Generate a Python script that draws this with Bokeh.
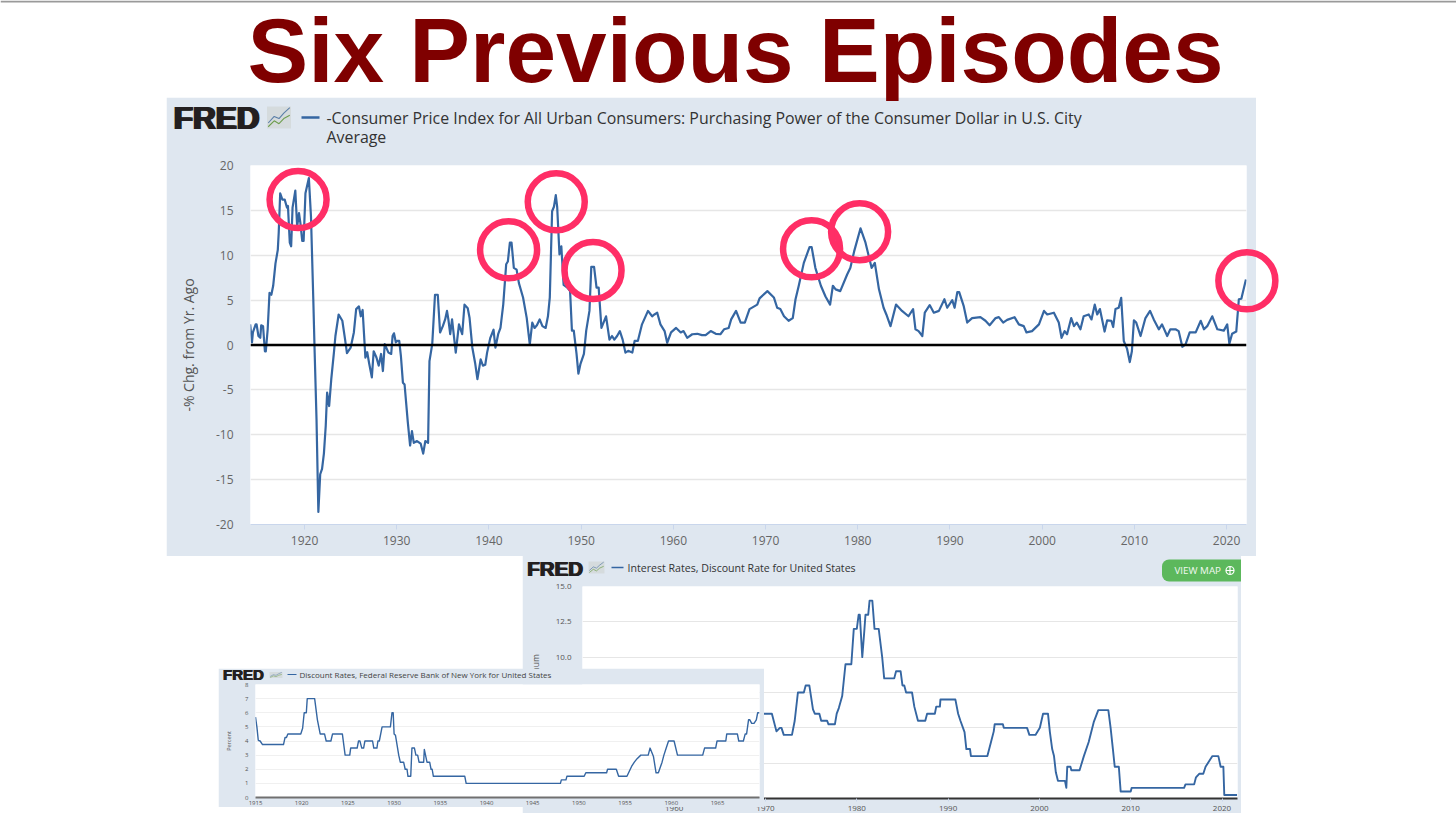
from bokeh.embed import file_html
from bokeh.resources import INLINE
from bokeh.plotting import figure
from bokeh.models import Range1d, FixedTicker, Span, BoxAnnotation
from bokeh.core.properties import value

# ---------- chart data ----------
title_text = "Six Previous Episodes"
cpi_legend = ["-Consumer Price Index for All Urban Consumers: Purchasing Power of the Consumer Dollar in U.S. City", "Average"]
ny_legend = "Discount Rates, Federal Reserve Bank of New York for United States"
us_legend = "Interest Rates, Discount Rate for United States"

cpi_years = [1914.1,1914.3,1914.4,1914.7,1914.8,1915.0,1915.2,1915.3,1915.5,1915.7,1915.8,1916.0,1916.2,1916.4,1916.6,1916.85,1917.1,1917.2,1917.36,1917.6,1917.85,1918.1,1918.2,1918.4,1918.55,1918.7,1919.0,1919.2,1919.4,1919.55,1919.75,1919.9,1920.1,1920.47,1920.7,1920.95,1921.1,1921.3,1921.5,1921.7,1921.9,1922.1,1922.3,1922.45,1922.67,1922.9,1923.2,1923.35,1923.7,1924.1,1924.4,1924.6,1925.0,1925.35,1925.6,1925.9,1926.1,1926.3,1926.6,1926.8,1927.0,1927.3,1927.5,1927.8,1928.05,1928.3,1928.5,1928.7,1929.1,1929.4,1929.55,1929.7,1929.9,1930.05,1930.27,1930.45,1930.67,1930.85,1931.2,1931.45,1931.65,1931.85,1932.2,1932.6,1932.87,1933.1,1933.4,1933.55,1933.85,1934.15,1934.45,1934.7,1935.0,1935.25,1935.45,1935.6,1935.8,1936.0,1936.4,1936.75,1937.1,1937.35,1937.7,1937.9,1938.2,1938.5,1938.75,1939.1,1939.35,1939.6,1939.8,1940.15,
1940.5,1940.7,1941.0,1941.25,1941.55,1941.87,1942.05,1942.27,1942.45,1942.7,1943.0,1943.25,1943.7,1944.1,1944.43,1944.7,1944.95,1945.2,1945.5,1945.8,1946.15,1946.4,1946.6,1946.85,1947.05,1947.25,1947.4,1947.65,1947.85,1948.1,1948.5,1948.8,1949.0,1949.2,1949.5,1949.7,1949.93,1950.3,1950.55,1950.9,1951.1,1951.4,1951.67,1951.9,1952.2,1952.7,1953.07,1953.35,1953.6,1953.9,1954.2,1954.5,1954.8,1955.1,1955.35,1955.55,1955.8,1956.15,1956.6,1957.25,1957.7,1957.95,1958.25,1958.6,1959.05,1959.33,1959.75,1960.3,1960.8,1961.1,1961.5,1962.05,1962.6,1963.1,1963.5,1964.05,1964.6,1965.1,1965.5,1966.0,1966.27,1966.8,
1967.3,1967.75,1968.26,1969.1,1969.35,1970.2,1970.9,1971.26,1971.6,1972.0,1972.5,1972.95,1973.25,1973.6,1974.15,1974.77,1975.0,1975.4,1976.0,1976.5,1977.0,1977.3,1977.6,1978.1,1978.85,1979.2,1979.6,1980.3,1980.84,1981.5,1981.85,1982.3,1982.8,1983.1,1983.55,1984.15,1984.8,1985.5,1986.0,1986.26,1986.6,1987.0,1987.27,1987.8,1988.25,1988.8,1989.4,1989.7,1990.25,1990.5,1990.8,1991.0,1991.5,1991.87,1992.4,1993.3,1993.85,1994.3,
1994.95,1995.3,1995.77,1996.2,1997.0,1997.47,1998.0,1998.3,1998.9,1999.65,2000.2,2000.55,2001.27,2001.8,2002.1,2002.43,2002.7,2003.15,2003.45,2003.75,2004.15,2004.5,2005.05,2005.35,2005.7,2005.97,2006.26,2006.77,2007.05,2007.5,2007.7,2007.95,2008.3,2008.57,2008.85,2009.2,2009.5,2009.73,2009.95,2010.2,2010.67,2011.2,2011.7,2012.1,2012.65,2013.0,2013.56,2013.9,2014.46,2014.8,2015.2,2015.55,2016.0,2016.65,2017.2,2017.55,2017.9,2018.45,2019.0,2019.7,2020.07,2020.3,2020.6,2021.05,2021.33,2021.6,2022.1]
cpi_values = [2.3,0.3,1.4,2.3,2.3,1.0,0.8,2.2,2.1,-0.7,-0.7,1.7,5.8,5.6,6.6,9.1,10.6,12.5,16.9,16.2,16.2,15.3,15.5,11.4,11.0,15.3,17.2,13.2,14.7,13.6,11.6,11.6,16.9,18.6,14.3,5.1,-0.9,-8.3,-18.6,-14.4,-13.8,-12.1,-9.0,-5.3,-6.8,-3.8,-0.7,1.0,3.4,2.7,0.6,-0.9,-0.3,1.4,4.0,4.3,3.2,3.9,-1.4,-0.8,-2.0,-3.6,-0.7,-1.4,-2.3,-1.0,-2.9,0.1,-0.85,-1.0,1.0,1.3,0.3,0.45,0.45,-1.2,-4.2,-4.4,-8.6,-11.2,-9.6,-10.9,-10.7,-11.0,-12.1,-10.7,-10.9,-1.8,0.1,5.6,5.6,1.4,2.1,2.85,3.8,2.85,1.2,2.85,-0.85,2.3,1.2,4.5,4.1,3.0,-0.3,-2.0,-3.8,-1.6,-2.3,-2.2,-0.85,0.8,
1.7,-0.3,1.2,1.9,4.5,9.0,9.3,11.4,11.4,8.6,8.4,6.9,5.3,3.0,0.07,2.5,1.9,2.2,2.85,2.1,1.9,3.2,5.3,14.9,15.4,16.7,15.4,10.1,11.0,6.7,6.4,6.0,1.6,1.6,-1.0,-3.2,-2.1,-1.0,1.6,3.8,8.7,8.7,6.4,6.4,1.9,3.2,0.6,1.0,0.6,1.0,1.55,0.6,-0.85,-0.65,-0.75,-0.85,0.45,0.45,2.3,3.8,3.2,3.4,3.6,2.3,1.55,0.25,1.4,1.9,1.4,1.55,0.8,1.2,1.25,1.1,1.1,1.55,1.25,1.2,1.75,1.9,2.85,3.8,
2.5,2.5,4.0,4.5,5.2,6.0,5.3,4.15,4.0,3.2,2.7,3.0,5.1,6.6,9.15,10.9,10.9,8.6,6.6,5.4,4.5,6.6,6.2,6.0,7.85,8.6,10.4,13.0,11.4,8.6,9.15,6.2,4.15,3.4,2.1,4.5,3.8,3.2,4.0,1.75,1.55,1.0,3.6,4.45,3.6,3.8,5.1,4.15,5.0,4.15,5.9,5.9,4.3,2.5,3.0,3.1,2.7,2.2,
3.0,3.1,2.5,2.8,3.1,2.3,2.1,1.4,1.55,2.3,3.8,3.4,3.6,2.5,0.8,1.55,1.2,3.0,2.1,2.5,1.75,3.2,3.4,2.85,4.5,3.4,4.0,1.5,2.75,2.7,2.0,4.0,4.15,5.25,0.45,-0.4,-1.9,-0.7,2.75,2.5,1.0,3.0,3.8,2.85,1.75,2.3,1.0,1.75,1.75,1.55,-0.2,0.07,1.4,1.4,2.7,1.75,2.1,3.2,1.75,1.6,2.3,0.15,1.25,1.5,5.1,5.15,7.3]

ny_years = [1915.0,1915.15,1915.3,1915.5,1915.76,1918.03,1918.2,1918.35,1918.5,1919.9,1920.1,1920.27,1920.5,1920.6,1921.4,1921.7,1922.0,1922.47,1922.65,1923.16,1923.34,1924.4,1924.7,1925.2,1925.3,1926.0,1926.15,1926.3,1926.5,1926.7,1926.84,1927.67,1927.8,1928.14,1928.25,1928.4,1928.7,1929.6,1929.77,1929.9,1930.0,1930.15,1930.5,1930.67,1931.03,1931.2,1931.4,1931.5,1931.8,1931.93,1932.2,1932.36,1932.55,1932.7,1933.2,1933.27,1933.56,1933.85,1934.0,1934.12,1934.25,1937.65,1937.8,1948.0,1948.1,1948.6,1948.7,1950.57,1950.75,1953.0,1953.1,1954.05,1954.3,1955.2,1955.7,1956.0,1956.3,1956.7,1957.5,1957.7,1958.07,1958.35,1958.6,1959.0,1959.2,1959.45,1959.7,1960.3,1960.67,1963.4,1963.6,1964.8,1964.95,1965.9,1966.0,1967.15,1967.3,1967.8,1968.0,1968.15,1968.36,1968.5,1968.7,1968.95,1969.2,1969.35,1969.55]
ny_values = [5.7,5.0,4.05,4.0,3.75,3.75,4.25,4.25,4.5,4.5,4.9,6.0,6.0,7.0,7.0,5.5,4.5,4.5,4.0,4.0,4.5,4.5,3.0,3.0,3.5,3.5,4.0,4.0,3.5,3.5,4.0,4.0,3.5,3.5,4.0,4.0,5.0,5.0,6.0,6.0,4.5,4.4,3.0,2.5,2.5,2.0,2.0,1.5,1.5,3.5,3.5,3.0,3.0,2.5,2.5,3.4,2.5,2.5,2.0,2.0,1.5,1.5,1.0,1.0,1.25,1.25,1.5,1.5,1.75,1.75,2.0,2.0,1.5,1.5,2.2,2.5,2.75,3.0,3.0,3.5,2.9,1.75,1.75,2.5,3.0,3.5,4.0,4.0,3.0,3.0,3.5,3.5,4.0,4.0,4.5,4.5,4.0,4.0,4.5,4.5,5.5,5.5,5.25,5.25,5.5,6.0,6.0]

us_years = [1969.5,1970.7,1971.2,1971.57,1971.75,1972.0,1972.9,1973.2,1973.55,1974.2,1974.4,1974.8,1975.2,1975.4,1975.9,1976.1,1976.75,1976.9,1977.6,1977.8,1978.03,1978.4,1978.76,1979.4,1979.67,1980.0,1980.2,1980.33,1980.6,1980.84,1980.95,1981.25,1981.4,1981.7,1981.94,1982.4,1982.78,1983.0,1984.1,1984.3,1984.8,1985.0,1985.2,1985.4,1986.05,1986.3,1986.7,1987.5,1987.7,1988.55,1988.7,1989.1,1989.16,1990.8,1991.1,1991.35,1991.8,1992.0,1992.4,1992.5,1994.3,1994.7,1995.0,1995.1,1996.0,1996.1,1998.65,1998.9,1999.57,2000.05,2000.4,2000.94,2001.15,2001.4,2001.6,2001.8,2002.03,2002.8,2002.95,2003.05,2003.4,2003.5,2004.4,2004.87,2005.4,2005.95,2006.45,2007.55,2007.8,2008.05,2008.25,2008.7,2008.9,2010.0,2010.1,2015.85,2016.0,2016.95,2017.15,2017.5,2017.95,2018.2,2018.95,2019.6,2019.85,2020.15,2020.25,2021.65]
us_values = [6.0,6.0,4.75,5.0,5.0,4.5,4.5,5.5,7.5,7.5,8.0,8.0,6.3,6.0,6.0,5.5,5.5,5.25,5.25,6.0,6.4,7.25,9.5,9.5,12.0,12.0,13.0,13.0,10.0,12.0,13.0,13.0,14.0,14.0,12.0,12.0,10.0,8.5,8.5,9.0,9.0,8.0,8.0,7.5,7.5,6.5,5.5,5.5,6.0,6.0,6.5,6.5,7.0,7.0,6.0,5.5,4.7,3.5,3.5,3.0,3.0,4.0,4.75,5.25,5.25,5.0,5.0,4.5,4.5,5.0,6.0,6.0,4.7,3.5,3.0,1.85,1.25,1.25,0.75,2.25,2.25,2.0,2.0,3.0,4.0,5.4,6.25,6.25,5.0,3.5,2.25,2.25,0.5,0.5,0.75,0.75,1.0,1.0,1.5,1.75,1.75,2.25,3.0,3.0,2.25,2.25,0.25,0.25]

ring_years = [1919.3,1942.13,1947.3,1951.29,1974.99,1980.2,2022.2]
ring_values = [16.2,10.6,15.95,8.3,10.72,12.61,7.15]

cpi_xticks = list(range(1920, 2021, 10))
cpi_yticks = list(range(-20, 21, 5))
us_xticks = list(range(1960, 2021, 10))
us_yticks = [0, 2.5, 5, 7.5, 10, 12.5, 15]
ny_xticks = list(range(1915, 1966, 5))
ny_yticks = list(range(0, 9))

# ---------- styling ----------
PANEL = "#DFE7F0"
LINE = "#3566A2"
FONT = "Open Sans"
roots = []


def place(x, y):
    return {"position": "absolute", "left": f"{x}px", "top": f"{y}px"}


def panel(box, frame, xr, yr, xticks, yticks, tick_font, tick_color="#666666"):
    x0, y0, x1, y1 = box
    fx0, fy0, fx1, fy1 = frame
    p = figure(width=x1 - x0, height=y1 - y0, output_backend="svg", toolbar_location=None,
               x_range=Range1d(*xr), y_range=Range1d(*yr),
               min_border_left=fx0 - x0, min_border_right=x1 - fx1,
               min_border_top=fy0 - y0, min_border_bottom=y1 - fy1,
               border_fill_color=PANEL, background_fill_color="white",
               outline_line_color=None, styles=place(x0, y0))
    p.xgrid.visible = False
    p.xaxis.ticker = FixedTicker(ticks=xticks)
    p.yaxis.ticker = FixedTicker(ticks=yticks)
    for ax in (p.xaxis[0], p.yaxis[0]):
        ax.major_label_text_font = FONT
        ax.major_label_text_font_size = tick_font
        ax.major_label_text_color = tick_color
        ax.minor_tick_line_color = None
    p.yaxis[0].axis_line_color = None
    p.yaxis[0].major_tick_line_color = None
    roots.append(p)
    return p


def overlay(box):
    x0, y0, x1, y1 = box
    p = figure(width=x1 - x0, height=y1 - y0, output_backend="svg", toolbar_location=None,
               x_range=Range1d(x0, x1), y_range=Range1d(y1, y0),
               x_axis_location=None, y_axis_location=None,
               min_border=0, border_fill_color=None, background_fill_color=None,
               outline_line_color=None, styles=place(x0, y0))
    p.grid.visible = False
    roots.append(p)
    return p


def label(p, x, y, s, size, color="#333333", font=FONT, style="normal", align="left", baseline="middle"):
    p.text(x=[x], y=[y], text=[s], text_font=value(font), text_font_size=f"{size}px",
           text_font_style=style, text_color=color, text_align=align, text_baseline=baseline)


def fred_logo(p, x0, yc, size, smear):
    # heavy, tight FRED wordmark: overprinted text keeps it real text but thickens the strokes
    for i in range(3):
        label(p, x0 + i * smear / 2, yc, "FRED", size, color="#231F20", font="Liberation Sans", style="bold")


def fred_icon(p, x0, y0, x1, y1, lw):
    w, h = x1 - x0, y1 - y0
    p.quad(left=[x0], right=[x1], top=[y0], bottom=[y1], fill_color="#D5DBDD", line_color=None)
    p.line([x0 + w * f for f in (0.05, 0.3, 0.5, 0.7, 0.95)], [y0 + h * f for f in (0.75, 0.45, 0.55, 0.3, 0.05)],
           line_color="#5B7FA8", line_width=lw)
    p.line([x0 + w * f for f in (0.05, 0.3, 0.5, 0.7, 0.95)], [y0 + h * f for f in (0.92, 0.65, 0.78, 0.55, 0.4)],
           line_color="#6F9E4F", line_width=lw)


# ---------- main panel ----------
m_box = (166, 97, 1256, 556)
m_frame = (250, 165, 1246, 524)
m_xr = (1914.14, 2022.16)
m_yr = (-20, 20)
m = panel(m_box, m_frame, m_xr, m_yr, cpi_xticks, cpi_yticks, "12px")
m.ygrid.grid_line_color = "#E6E6E6"
m.ygrid.grid_line_width = 1.5
m.yaxis[0].major_label_overrides = {v: str(v) for v in cpi_yticks}
m.yaxis[0].major_label_standoff = 17
m.yaxis[0].major_tick_out = 0
m.yaxis[0].major_tick_in = 0
m.yaxis[0].axis_label = "-% Chg. from Yr. Ago"
m.yaxis[0].axis_label_text_font = FONT
m.yaxis[0].axis_label_text_font_style = "normal"
m.yaxis[0].axis_label_text_font_size = "14px"
m.yaxis[0].axis_label_text_color = "#555555"
m.yaxis[0].axis_label_standoff = 15
m.xaxis[0].axis_line_color = "#C9D6EC"
m.xaxis[0].major_tick_line_color = "#C9D6EC"
m.xaxis[0].major_tick_out = 5
m.xaxis[0].major_tick_in = 0
m.xaxis[0].major_label_standoff = 6
m.line(cpi_years, cpi_values, line_color=LINE, line_width=2.2, line_join="round")
m.add_layout(Span(location=0, dimension="width", line_color="black", line_width=2.5))

# ---------- page overlay: rule, title, main header, rings ----------
page = overlay((0, 0, 1456, 827))
page.quad(left=[0], right=[1456], top=[0], bottom=[2], fill_color="#9A9A9A", line_color=None)
label(page, 735, 50, title_text, 91, color="#7F0000", font="Liberation Sans", style="bold", align="center")
fred_logo(page, 172, 117.5, 31.5, 2.5)
fred_icon(page, 266.5, 106, 290.5, 128, 1.1)
page.line([301, 319], [117, 117], line_color=LINE, line_width=2.5)
label(page, 326, 117.5, cpi_legend[0], 15.9)
label(page, 326, 136.5, cpi_legend[1], 15.9)
sx = (m_frame[2] - m_frame[0]) / (m_xr[1] - m_xr[0])
sy = (m_frame[3] - m_frame[1]) / (m_yr[1] - m_yr[0])
page.extra_x_ranges["cpi"] = Range1d(m_xr[0] - m_frame[0] / sx, m_xr[1] + (1456 - m_frame[2]) / sx)
page.extra_y_ranges["cpi"] = Range1d(m_yr[0] - (827 - m_frame[3]) / sy, m_yr[1] + m_frame[1] / sy)
page.scatter(ring_years, ring_values, x_range_name="cpi", y_range_name="cpi", marker="circle", size=57,
             fill_color=None, line_color="#FF2E66", line_width=6.5)

# ---------- lower-right panel ----------
u_box = (522, 555, 1241, 813)
u_frame = (582, 586, 1237, 798)
u_left = 1970 + (u_frame[0] - 765) / 9.13
u_right = 1970 + (u_frame[2] - 765) / 9.13
u = panel(u_box, u_frame, (u_left, u_right), (0, 15), us_xticks, us_yticks, "8px", "#555555")
u.ygrid.grid_line_color = "#E6E6E6"
u.ygrid.grid_line_width = 1
u.yaxis[0].major_label_overrides = {v: f"{v:.1f}" for v in us_yticks}
u.yaxis[0].major_label_standoff = 11
u.yaxis[0].major_tick_out = 0
u.yaxis[0].major_tick_in = 0
u.yaxis[0].axis_label = "Percent per annum"
u.yaxis[0].axis_label_text_font = FONT
u.yaxis[0].axis_label_text_font_style = "normal"
u.yaxis[0].axis_label_text_font_size = "8.5px"
u.yaxis[0].axis_label_text_color = "#555555"
u.yaxis[0].axis_label_standoff = 12
u.xaxis[0].axis_line_color = "#333333"
u.xaxis[0].axis_line_width = 2
u.xaxis[0].major_tick_line_color = "#C9D6EC"
u.xaxis[0].major_tick_out = 3
u.xaxis[0].major_tick_in = 0
u.xaxis[0].major_label_standoff = 4
u.line(us_years, us_values, line_color=LINE, line_width=1.9, line_join="round")

u_head = overlay((522, 550, 1241, 590))
fred_logo(u_head, 526, 567.5, 20.5, 1.6)
fred_icon(u_head, 588, 561, 604, 573, 0.7)
u_head.line([611, 623], [567, 567], line_color=LINE, line_width=1.6)
label(u_head, 627, 567.5, us_legend, 10.6)
u_head.add_layout(BoxAnnotation(left=1161.5, right=1241, top=559, bottom=581, fill_color="#5CB85C", fill_alpha=1,
                                line_color=None, level="underlay",
                                border_radius=dict(top_left=7, bottom_left=7, top_right=0, bottom_right=0)))
label(u_head, 1174, 570.3, "VIEW MAP", 9.8, color="#F2F8F2")
u_head.scatter([1229.5], [570], marker="circle_cross", size=8, fill_color=None, line_color="white", line_width=1.2)

# ---------- lower-left panel ----------
n_box = (218, 668, 764, 807)
n_frame = (255, 684, 759, 797)
n_right = 1915 + (n_frame[2] - n_frame[0]) / 9.24
n = panel(n_box, n_frame, (1915, n_right), (0, 8), ny_xticks, ny_yticks, "6px", "#555555")
n.ygrid.grid_line_color = "#F0F0F0"
n.ygrid.grid_line_width = 1
n.yaxis[0].major_label_standoff = 7
n.yaxis[0].major_tick_out = 0
n.yaxis[0].major_tick_in = 0
n.yaxis[0].axis_label = "Percent"
n.yaxis[0].axis_label_text_font = FONT
n.yaxis[0].axis_label_text_font_style = "normal"
n.yaxis[0].axis_label_text_font_size = "5.5px"
n.yaxis[0].axis_label_text_color = "#555555"
n.yaxis[0].axis_label_standoff = 9
n.xaxis[0].axis_line_color = "#707070"
n.xaxis[0].axis_line_width = 2
n.xaxis[0].major_tick_line_color = None
n.xaxis[0].major_tick_out = 0
n.xaxis[0].major_tick_in = 0
n.xaxis[0].major_label_standoff = 3
n.line(ny_years, ny_values, line_color=LINE, line_width=1.4, line_join="round")

n_head = overlay((218, 660, 764, 690))
fred_logo(n_head, 222, 674, 15, 1.0)
fred_icon(n_head, 269, 671.5, 282, 677.5, 0.5)
n_head.line([287, 296], [674, 674], line_color=LINE, line_width=1)
label(n_head, 299, 674.2, ny_legend, 8, color="#444444")

open("out.html", "w").write(file_html(roots, INLINE))
